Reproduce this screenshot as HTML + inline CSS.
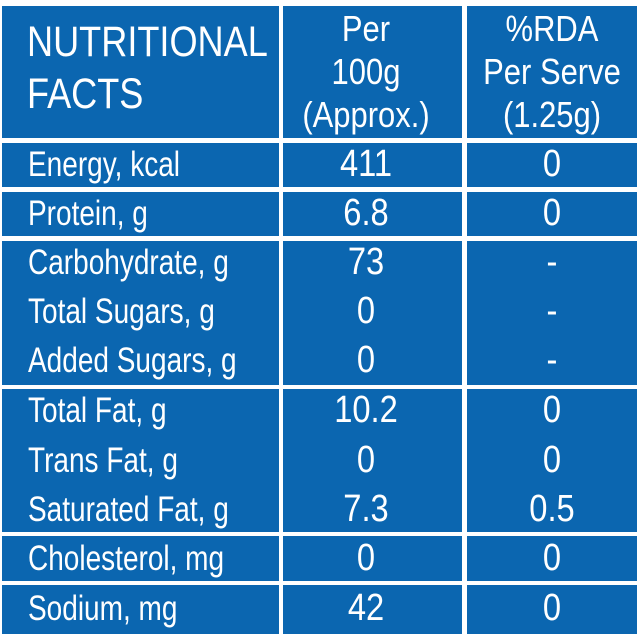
<!DOCTYPE html>
<html><head><meta charset="utf-8"><style>
body{margin:0;width:640px;height:640px;background:#fff;position:relative;overflow:hidden;font-family:"Liberation Sans",Arial,sans-serif;color:#fff}
.b{position:absolute;background:#0b66b0}
.t{position:absolute;white-space:nowrap;}
.l{font-size:35px;line-height:35px;transform:scaleX(0.8);transform-origin:0 0;margin-top:-1px}
.c{font-size:38px;line-height:38px;transform:scaleX(0.86);transform-origin:50% 0;text-align:center;width:200px;margin-top:-3px}
.h{font-size:43px;line-height:43px;transform:scaleX(0.84);transform-origin:0 0;margin-top:-2px}
.s{font-size:36px;line-height:36px;transform:scaleX(0.86);transform-origin:50% 0;text-align:center;width:200px;margin-top:-3px}
</style></head><body>
<div class="b" style="left:2px;top:6px;width:277px;height:132px"></div>
<div class="b" style="left:283px;top:6px;width:179px;height:132px"></div>
<div class="b" style="left:467px;top:6px;width:170px;height:132px"></div>
<div class="b" style="left:2px;top:143px;width:277px;height:44px"></div>
<div class="b" style="left:283px;top:143px;width:179px;height:44px"></div>
<div class="b" style="left:467px;top:143px;width:170px;height:44px"></div>
<div class="b" style="left:2px;top:192px;width:277px;height:44px"></div>
<div class="b" style="left:283px;top:192px;width:179px;height:44px"></div>
<div class="b" style="left:467px;top:192px;width:170px;height:44px"></div>
<div class="b" style="left:2px;top:241px;width:277px;height:144px"></div>
<div class="b" style="left:283px;top:241px;width:179px;height:144px"></div>
<div class="b" style="left:467px;top:241px;width:170px;height:144px"></div>
<div class="b" style="left:2px;top:389px;width:277px;height:143px"></div>
<div class="b" style="left:283px;top:389px;width:179px;height:143px"></div>
<div class="b" style="left:467px;top:389px;width:170px;height:143px"></div>
<div class="b" style="left:2px;top:536px;width:277px;height:45px"></div>
<div class="b" style="left:283px;top:536px;width:179px;height:45px"></div>
<div class="b" style="left:467px;top:536px;width:170px;height:45px"></div>
<div class="b" style="left:2px;top:585px;width:277px;height:49px"></div>
<div class="b" style="left:283px;top:585px;width:179px;height:49px"></div>
<div class="b" style="left:467px;top:585px;width:170px;height:49px"></div>

<div class="t h" style="left:27px;top:23px">NUTRITIONAL</div>
<div class="t h" style="left:27px;top:75px">FACTS</div>
<div class="t s" style="left:266px;top:14px">Per</div>
<div class="t s" style="left:266px;top:57px">100g</div>
<div class="t s" style="left:266px;top:100px">(Approx.)</div>
<div class="t s" style="left:452px;top:14px">%RDA</div>
<div class="t s" style="left:452px;top:57px">Per Serve</div>
<div class="t s" style="left:452px;top:100px">(1.25g)</div>

<div class="t l" style="left:28px;top:148px">Energy, kcal</div>
<div class="t c" style="left:266px;top:148px">411</div>
<div class="t c" style="left:452px;top:148px">0</div>
<div class="t l" style="left:28px;top:197px">Protein, g</div>
<div class="t c" style="left:266px;top:197px">6.8</div>
<div class="t c" style="left:452px;top:197px">0</div>
<div class="t l" style="left:28px;top:246px">Carbohydrate, g</div>
<div class="t c" style="left:266px;top:246px">73</div>
<div class="t c" style="left:452px;top:246px">-</div>
<div class="t l" style="left:28px;top:295px">Total Sugars, g</div>
<div class="t c" style="left:266px;top:295px">0</div>
<div class="t c" style="left:452px;top:295px">-</div>
<div class="t l" style="left:28px;top:344px">Added Sugars, g</div>
<div class="t c" style="left:266px;top:344px">0</div>
<div class="t c" style="left:452px;top:344px">-</div>
<div class="t l" style="left:28px;top:394px">Total Fat, g</div>
<div class="t c" style="left:266px;top:394px">10.2</div>
<div class="t c" style="left:452px;top:394px">0</div>
<div class="t l" style="left:28px;top:444px">Trans Fat, g</div>
<div class="t c" style="left:266px;top:444px">0</div>
<div class="t c" style="left:452px;top:444px">0</div>
<div class="t l" style="left:28px;top:493px">Saturated Fat, g</div>
<div class="t c" style="left:266px;top:493px">7.3</div>
<div class="t c" style="left:452px;top:493px">0.5</div>
<div class="t l" style="left:28px;top:542px">Cholesterol, mg</div>
<div class="t c" style="left:266px;top:542px">0</div>
<div class="t c" style="left:452px;top:542px">0</div>
<div class="t l" style="left:28px;top:592px">Sodium, mg</div>
<div class="t c" style="left:266px;top:592px">42</div>
<div class="t c" style="left:452px;top:592px">0</div>
</body></html>
